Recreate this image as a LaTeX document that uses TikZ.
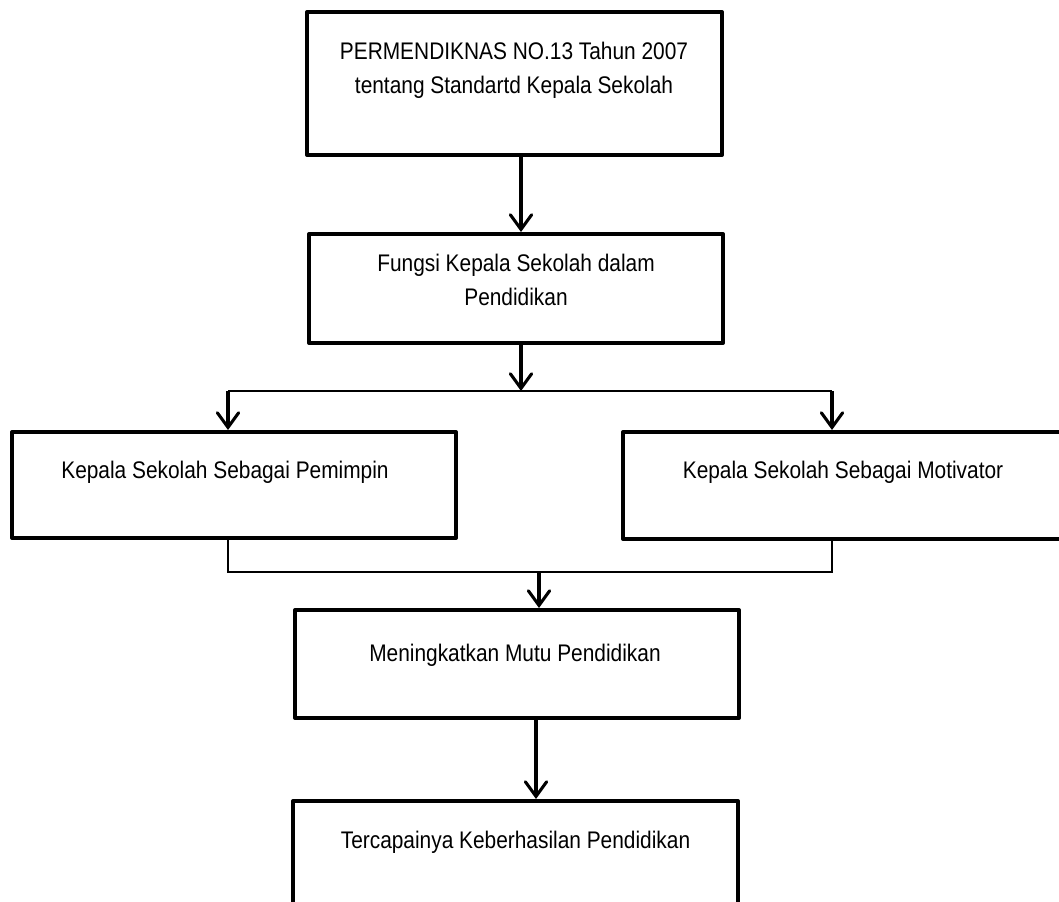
\documentclass[tikz,border=0pt]{standalone}
\usepackage{fontspec}
\setmainfont{Liberation Sans}[FakeStretch=0.87]
\usetikzlibrary{arrows.meta}

\begin{document}
\begin{tikzpicture}[x=0.75pt, y=-0.75pt]
	\tikzstyle{box}   = [draw=black, line width=3pt, line join=round, inner sep=0pt]
	\tikzstyle{txt}   = [align=center, inner sep=0pt, font=\fontsize{18}{25.7}\selectfont]
	\tikzstyle{arrow} = [line width=2.3pt, -{Straight Barb[length=11pt, width=16pt, line cap=round]}]
	\tikzstyle{thin}  = [line width=1.1pt]

	\useasboundingbox (0,0) rectangle (1059,902);
	\clip (0,0) rectangle (1059,902);
%	\draw[step=50, gray!50] (0,0) grid (1059,902);

	\foreach \name/\x/\y/\w/\h in {b1/514.5/83.5/311.25/107.25, b2/516/288.5/310.5/81.75,
			lft/234/485/333/79.5, rgt/861.5/485.5/357.75/80.25,
			b4/517/664/333/81, b5/515.5/880.5/333.75/119.25}
		\node[box, minimum width=\w pt, minimum height=\h pt] (\name) at (\x, \y) {};

	\node[txt] (t1) at (514, 70) {PERMENDIKNAS NO.13 Tahun 2007\\tentang Standartd Kepala Sekolah};
	\node[txt] (t2) at (516, 280) {Fungsi Kepala Sekolah dalam\\Pendidikan};
	\node[txt] (t3) at (225, 472) {Kepala Sekolah Sebagai Pemimpin};
	\node[txt] (t4) at (843, 472) {Kepala Sekolah Sebagai Motivator};
	\node[txt] (t5) at (515, 655) {Meningkatkan Mutu Pendidikan};
	\node[txt] (t6) at (515.5, 842) {Tercapainya Keberhasilan Pendidikan};

	\coordinate (c1) at (521, 0);
	\coordinate (sp) at (521, 391);
	\coordinate (bl) at (228, 391);
	\coordinate (br) at (832, 391);
	\coordinate (jl) at (228, 572);
	\coordinate (jr) at (832, 572);
	\coordinate (jm) at (539, 572);
	\coordinate (c5) at (536, 0);

	\draw[arrow] (b1.south -| c1) -- (b2.north -| c1);
	\draw[arrow] (b2.south -| c1) -- (sp);

	\draw[thin] (bl) -- (br);
	\foreach \from/\to in {bl/lft, br/rgt}
		\draw[arrow] (\from) -- (\from |- \to.north);

	\draw[thin] (bl |- lft.south) -- (jl) -- (jr) -- (br |- rgt.south);
	\draw[arrow] (jm) -- (jm |- b4.north);
	\draw[arrow] (b4.south -| c5) -- (b5.north -| c5);

\end{tikzpicture}
\end{document}
